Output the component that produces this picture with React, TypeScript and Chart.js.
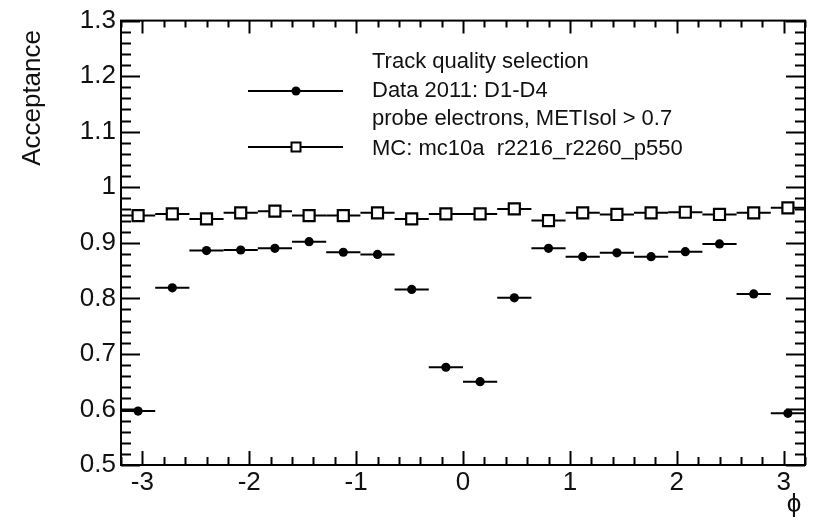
import { useEffect, useRef } from "react";
import { Chart, registerables } from "chart.js";

Chart.register(...registerables);

// ---- data ----
const phiCenters = [
  -3.04, -2.72, -2.4, -2.08, -1.76, -1.44, -1.12, -0.8, -0.48, -0.16,
  0.16, 0.48, 0.8, 1.12, 1.44, 1.76, 2.08, 2.4, 2.72, 3.04,
];
const binHalfWidth = 0.16;
const dataAcceptance = [
  0.597, 0.819, 0.886, 0.887, 0.890, 0.902, 0.883, 0.879, 0.816, 0.676,
  0.650, 0.801, 0.890, 0.875, 0.882, 0.875, 0.884, 0.898, 0.808, 0.593,
];
const mcAcceptance = [
  0.949, 0.952, 0.943, 0.954, 0.957, 0.949, 0.949, 0.954, 0.943, 0.952,
  0.952, 0.961, 0.940, 0.954, 0.951, 0.954, 0.955, 0.951, 0.954, 0.963,
];
const xTickValues = [-3, -2, -1, 0, 1, 2, 3];
const yTickValues = [0.5, 0.6, 0.7, 0.8, 0.9, 1.0, 1.1, 1.2, 1.3];
const xRange = [-3.2, 3.2];
const yRange = [0.5, 1.3];
const xMinorStep = 0.2;
const yMinorStep = 0.02;

const legendHeader = "Track quality selection";
const dataLabel = "Data 2011: D1-D4";
const dataLabel2 = "probe electrons, METIsol > 0.7";
const mcLabel = "MC: mc10a  r2216_r2260_p550";
const yTitle = "Acceptance";
const xTitle = "\u03d5";

const FONT = "'Liberation Sans', Arial, Helvetica, sans-serif";
const TEXT = "#111";

const errorBarPlugin = {
  id: "xErrorBars",
  beforeDatasetsDraw(chart: any) {
    const { ctx, chartArea } = chart;
    const xs = chart.scales.x;
    const ys = chart.scales.y;
    ctx.save();
    ctx.beginPath();
    ctx.rect(chartArea.left, chartArea.top, chartArea.right - chartArea.left, chartArea.bottom - chartArea.top);
    ctx.clip();
    ctx.strokeStyle = "#000";
    ctx.lineWidth = 2;
    [dataAcceptance, mcAcceptance].forEach((vals) => {
      phiCenters.forEach((c, i) => {
        const x1 = xs.getPixelForValue(c - binHalfWidth);
        const x2 = xs.getPixelForValue(c + binHalfWidth);
        const y = ys.getPixelForValue(vals[i]);
        ctx.beginPath();
        ctx.moveTo(x1, y);
        ctx.lineTo(x2, y);
        ctx.stroke();
      });
    });
    ctx.restore();
  },
};

const framePlugin = {
  id: "rootFrame",
  afterDraw(chart: any) {
    const { ctx, chartArea } = chart;
    const { left, right, top, bottom } = chartArea;
    const xs = chart.scales.x;
    const ys = chart.scales.y;
    ctx.save();
    ctx.strokeStyle = "#000";
    ctx.lineWidth = 2;
    ctx.strokeRect(left, top, right - left, bottom - top);
    ctx.beginPath();
    // y ticks
    const nY = Math.round((yRange[1] - yRange[0]) / yMinorStep);
    for (let i = 0; i <= nY; i++) {
      const v = yRange[0] + i * yMinorStep;
      const major = i % 5 === 0;
      const y = Math.round(ys.getPixelForValue(v)) + 0.5;
      const len = major ? 19 : 10;
      ctx.moveTo(left, y);
      ctx.lineTo(left + len, y);
      ctx.moveTo(right, y);
      ctx.lineTo(right - len, y);
    }
    // x ticks
    const nX = Math.round((xRange[1] - xRange[0]) / xMinorStep);
    for (let i = 0; i <= nX; i++) {
      const v = xRange[0] + i * xMinorStep;
      const major = Math.abs(v - Math.round(v)) < 1e-6;
      const x = Math.round(xs.getPixelForValue(v)) + 0.5;
      ctx.moveTo(x, bottom);
      ctx.lineTo(x, bottom - (major ? 14 : 8));
      ctx.moveTo(x, top);
      ctx.lineTo(x, top + (major ? 13 : 7));
    }
    ctx.stroke();

    // axis titles
    ctx.fillStyle = TEXT;
    ctx.font = `26px ${FONT}`;
    ctx.save();
    ctx.translate(40, 30);
    ctx.rotate(-Math.PI / 2);
    ctx.textAlign = "right";
    ctx.textBaseline = "alphabetic";
    ctx.fillText(yTitle, 0, 0);
    ctx.restore();
    ctx.textAlign = "center";
    ctx.textBaseline = "alphabetic";
    ctx.fillText(xTitle, 794, 512);

    // legend
    ctx.font = `22px ${FONT}`;
    ctx.textAlign = "left";
    ctx.fillText(legendHeader, 372, 68);
    ctx.fillText(dataLabel, 372, 97);
    ctx.fillText(dataLabel2, 372, 125);
    ctx.fillText(mcLabel, 372, 155);

    ctx.lineWidth = 2;
    ctx.beginPath();
    ctx.moveTo(248, 91);
    ctx.lineTo(343, 91);
    ctx.moveTo(248, 147);
    ctx.lineTo(343, 147);
    ctx.stroke();
    ctx.fillStyle = "#000";
    ctx.beginPath();
    ctx.arc(296, 91, 4.5, 0, Math.PI * 2);
    ctx.fill();
    ctx.fillStyle = "#fff";
    ctx.fillRect(291.5, 142.5, 9, 9);
    ctx.strokeRect(291.5, 142.5, 9, 9);
    ctx.restore();
  },
};

export default function App() {
  const canvasRef = useRef<HTMLCanvasElement | null>(null);

  useEffect(() => {
    const canvas = canvasRef.current;
    if (!canvas) return;
    const chart = new Chart(canvas, {
      type: "scatter",
      data: {
        datasets: [
          {
            label: "Data",
            data: phiCenters.map((x, i) => ({ x, y: dataAcceptance[i] })),
            pointStyle: "circle",
            pointRadius: 4.6,
            backgroundColor: "#000",
            borderColor: "#000",
            borderWidth: 0,
          },
          {
            label: "MC",
            data: phiCenters.map((x, i) => ({ x, y: mcAcceptance[i] })),
            pointStyle: "rect",
            pointRadius: 7.8,
            backgroundColor: "#fff",
            borderColor: "#000",
            borderWidth: 2.2,
          },
        ],
      },
      options: {
        animation: false,
        responsive: false,
        events: [],
        layout: { padding: { top: 20, right: 6, left: 0, bottom: 0 } },
        plugins: { legend: { display: false }, tooltip: { enabled: false } },
        scales: {
          x: {
            type: "linear",
            min: xRange[0],
            max: xRange[1],
            grid: { display: false, drawTicks: false },
            border: { display: false },
            ticks: {
              font: { family: FONT, size: 26 },
              color: TEXT,
              padding: 2,
              maxRotation: 0,
              callback: (v: any) => String(v),
            },
            afterBuildTicks: (s: any) => {
              s.ticks = xTickValues.map((value) => ({ value }));
            },
            afterFit: (s: any) => {
              s.height = 55;
            },
          },
          y: {
            type: "linear",
            min: yRange[0],
            max: yRange[1],
            grid: { display: false, drawTicks: false },
            border: { display: false },
            ticks: {
              font: { family: FONT, size: 26 },
              color: TEXT,
              padding: 5,
              callback: (v: any) => String(Math.round(Number(v) * 10) / 10),
            },
            afterBuildTicks: (s: any) => {
              s.ticks = yTickValues.map((value) => ({ value }));
            },
            afterFit: (s: any) => {
              s.width = 121;
            },
          },
        },
      },
      plugins: [errorBarPlugin, framePlugin],
    });
    return () => chart.destroy();
  }, []);

  return (
    <div style={{ position: "fixed", left: 0, top: 0, width: 815, height: 520, background: "#fff" }}>
      <canvas ref={canvasRef} width={815} height={520} />
    </div>
  );
}
